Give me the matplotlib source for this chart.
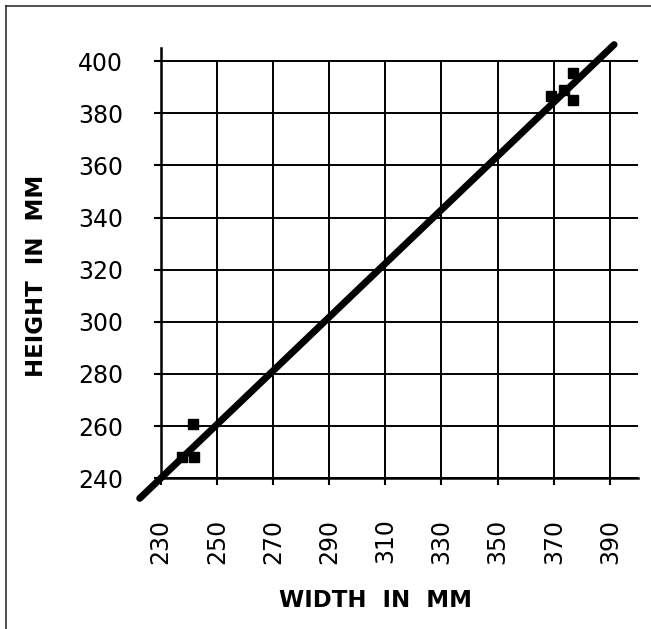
import matplotlib
matplotlib.use('Agg')
import matplotlib.pyplot as plt
from matplotlib.lines import Line2D

# measured points (width vs height, mm)
width_mm = [237.5, 241.7, 241.6, 369.0, 373.5, 377.0, 377.0]
height_mm = [248.3, 248.3, 260.9, 386.5, 389.0, 395.5, 385.0]

# fitted line end points
fit_x = [222.5, 391.5]
fit_y = [232.3, 406.3]

x_ticks = [230, 250, 270, 290, 310, 330, 350, 370, 390]
y_ticks = [240, 260, 280, 300, 320, 340, 360, 380, 400]

fig = plt.figure(figsize=(6.51, 6.29), dpi=100)
ax = fig.add_axes([0.2469, 0.2396, 0.7331, 0.6841])

ax.set_xlim(230, 400)
ax.set_ylim(240, 405)

# grid: horizontal lines full width, vertical ones stop at the top tick
ax.set_axisbelow(True)
ax.yaxis.grid(True, color='black', linewidth=1.4)
ax.vlines(x_ticks[1:], y_ticks[0], y_ticks[-1], color='black', linewidth=1.4, zorder=0.5)

ax.plot(width_mm, height_mm, 's', color='black', markersize=7, zorder=2)
ax.plot(fit_x, fit_y, color='black', linewidth=5, solid_capstyle='round',
        clip_on=False, zorder=3)

ax.set_xticks(x_ticks)
ax.set_yticks(y_ticks)
ax.set_xticklabels([str(v) for v in x_ticks], rotation=90)
ax.tick_params(axis='both', direction='out', length=5, width=1.5,
               labelsize=17, colors='black')
ax.tick_params(axis='x', pad=24)
ax.tick_params(axis='y', pad=22)

for side in ['top', 'right']:
    ax.spines[side].set_visible(False)
for side in ['left', 'bottom']:
    ax.spines[side].set_linewidth(1.8)

ax.set_xlabel('WIDTH  IN  MM', fontsize=16.5, fontweight='bold')
ax.xaxis.set_label_coords(0.451, -0.258)
ax.set_ylabel('HEIGHT  IN  MM', fontsize=16.5, fontweight='bold')
ax.yaxis.set_label_coords(-0.237, 0.47)

# frame lines at top and left of the picture
fig.add_artist(Line2D([0.0092, 1.0], [0.9905, 0.9905], color='#222222', linewidth=1.1))
fig.add_artist(Line2D([0.0092, 0.0092], [0.0, 0.9905], color='#222222', linewidth=1.1))

fig.savefig('out.png', dpi=100)
